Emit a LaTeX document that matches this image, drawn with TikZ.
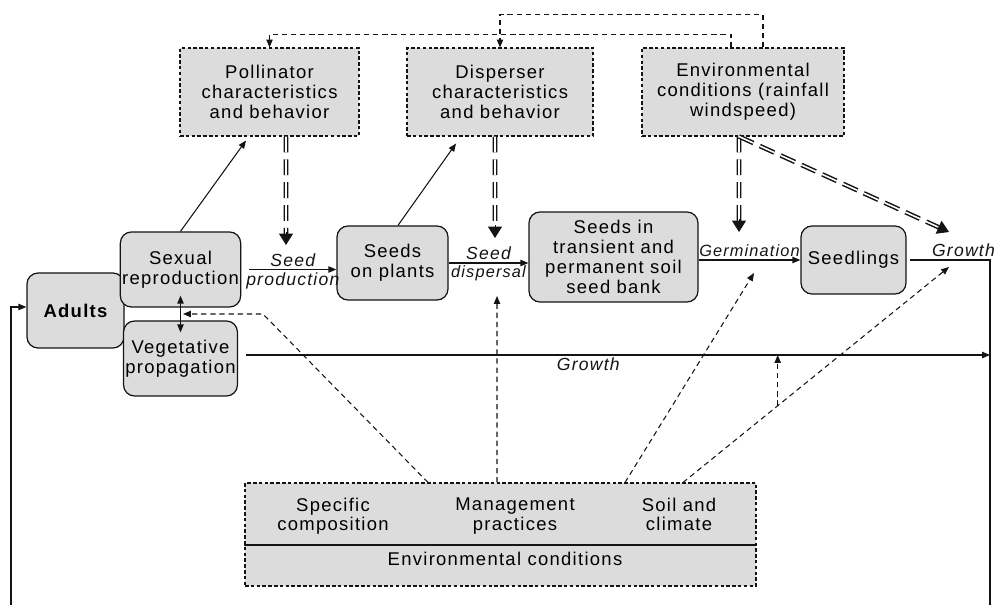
\documentclass[tikz,border=0pt]{standalone}
\usepackage{fontspec}
\setmainfont{Liberation Sans}[LetterSpace=7]
\usetikzlibrary{positioning,arrows.meta,calc}
\definecolor{boxfill}{HTML}{DCDCDC}
\definecolor{ink}{HTML}{141414}

\begin{document}
\begin{tikzpicture}[font=\fontsize{10.5}{11.3}\selectfont,
    fbox/.style={draw=ink, fill=boxfill, dash pattern=on 2pt off 1.3pt, line width=0.6pt, minimum height=1.76cm, align=center, inner sep=1pt},
    rbox/.style={draw=ink, fill=boxfill, rounded corners=0.22cm, line width=0.7pt, align=center, inner sep=1pt},
    lab/.style={font=\fontsize{10}{10}\selectfont\itshape, inner sep=1.5pt},
    slab/.style={font=\fontsize{9.3}{10}\selectfont\itshape, inner sep=1.5pt},
    arr/.style={-{Triangle[length=4.5pt,width=3.6pt]}, line width=0.6pt, ink},
    fb/.style={-{Triangle[length=4.5pt,width=3.6pt]}, line width=0.6pt, dash pattern=on 3pt off 2.2pt, ink},
    dbl/.style={double=white, double distance=0.9pt, line width=0.85pt, dash pattern=on 9pt off 4pt, shorten >=5pt, ink},
    hd/.style={-{Triangle[length=6.5pt,width=8pt]}, line width=0.5pt, ink}]

  \useasboundingbox (0,0) rectangle (19.9,12.1);

  % top row: agents and conditions
  \node[fbox, minimum width=3.58cm] (pol) at (5.39,10.26) {Pollinator\\characteristics\\and behavior};
  \node[fbox, minimum width=3.72cm] (dis) at (10.0,10.26) {Disperser\\characteristics\\and behavior};
  \node[fbox, minimum width=4.04cm] (env) at (14.86,10.26) {Environmental\\conditions (rainfall\\windspeed)};

  % life cycle row
  \node[rbox, minimum width=1.94cm, minimum height=1.5cm, font=\fontsize{10.5}{11.3}\selectfont\bfseries] (adults) at (1.51,5.89) {Adults};
  \node[rbox, minimum width=2.26cm, minimum height=1.5cm] (sex) at (3.61,6.71) {Sexual\\reproduction};
  \node[rbox, minimum width=2.26cm, minimum height=1.5cm] (veg) at (3.61,4.93) {Vegetative\\propagation};
  \node[rbox, minimum width=2.22cm, minimum height=1.48cm] (seeds) at (7.85,6.84) {Seeds\\on plants};
  \node[rbox, minimum width=3.38cm, minimum height=1.8cm] (bank) at (12.27,6.96) {Seeds in\\transient and\\permanent soil\\seed bank};
  \node[rbox, minimum width=2.1cm, minimum height=1.36cm] (seedl) at (17.07,6.9) {Seedlings};

  % bottom box
  \node[fbox, minimum width=10.22cm, minimum height=2.06cm] (envc) at (10.01,1.41) {};
  \draw[ink, line width=0.6pt] ([yshift=-0.21cm]envc.west) -- ([yshift=-0.21cm]envc.east);
  \node[align=center, anchor=north] (spec) at (6.66,2.27) {Specific\\composition};
  \node[align=center, anchor=north] (mgmt) at (10.3,2.27) {Management\\practices};
  \node[align=center, anchor=north] (soil) at (13.58,2.27) {Soil and\\climate};
  \node (envt) at (10.1,0.92) {Environmental conditions};

  % free ends
  \coordinate (rtop) at (19.8,6.9);
  \coordinate (rbot) at (19.8,0);
  \coordinate (lb) at (0.22,0);
  \coordinate (tseed) at (5.72,7.2);
  \coordinate (tdisp) at (9.9,7.34);
  \coordinate (tgerm) at (14.78,7.46);
  \coordinate (tgrow) at (18.98,7.46);
  \coordinate (es) at ([xshift=-0.08cm]env.south);
  \coordinate (gv) at ([xshift=0.16cm,yshift=0.07cm]veg.east);
  \coordinate (ge) at (gv -| rtop);

  % main flow
  \draw[arr] ([xshift=0.16cm]sex.east) -- node[lab, above]{Seed} node[lab, below]{production} (sex.east -| seeds.west);
  \draw[arr] (seeds.east) -- node[lab, above]{Seed} node[slab, below]{dispersal} (seeds.east -| bank.west);
  \draw[arr] (seedl.west -| bank.east) -- node[slab, above]{Germination} (seedl.west);
  \draw[ink, line width=0.6pt] ([xshift=0.06cm]seedl.east) -- node[lab, above, pos=0.67]{Growth} (seedl.east -| rtop) -- (rbot);
  \draw[arr] (gv) -- node[lab, below, pos=0.46]{Growth} (ge);
  \draw[arr] (lb) |- ([yshift=0.07cm]adults.west);
  \draw[{Triangle[length=4.5pt,width=3.6pt]}-{Triangle[length=4.5pt,width=3.6pt]}, line width=0.6pt, ink] ([yshift=0.24cm]sex.south) -- ([yshift=-0.24cm]veg.north);

  % to pollinators and dispersers
  \draw[arr] (sex.north) -- ([xshift=-0.47cm,yshift=-0.08cm]pol.south);
  \draw[arr] ([xshift=0.11cm]seeds.north) -- ([xshift=-0.88cm,yshift=-0.14cm]dis.south);

  % heavy effects
  \draw[dbl] ([xshift=0.33cm]pol.south) -- (tseed);
  \draw[hd] ($(tseed)+(0,0.25)$) -- (tseed);
  \draw[dbl] ([xshift=-0.1cm]dis.south) -- (tdisp);
  \draw[hd] ($(tdisp)+(0,0.25)$) -- (tdisp);
  \draw[dbl] (es) -- (tgerm);
  \draw[hd] ($(tgerm)+(0,0.25)$) -- (tgerm);
  \draw[dbl] (es) -- (tgrow);
  \draw[hd] ($(tgrow)!0.25cm!(es)$) -- (tgrow);

  % feedback on top
  \draw[fb] ([xshift=0.4cm]env.north) -- ++(0,0.66) -| (dis.north);
  \draw[fb] ([xshift=-0.24cm]env.north) -- ++(0,0.26) -| (pol.north);

  % effects of environmental conditions
  \draw[fb] ([xshift=-1.45cm]envc.north) -- (5.26,5.82) -- (3.66,5.82);
  \draw[fb] ([xshift=-0.07cm]envc.north) -- (9.94,6.18);
  \draw[fb] ([xshift=2.49cm]envc.north) -- (15.08,6.64);
  \draw[fb] ([xshift=3.65cm]envc.north) -- coordinate[pos=0.356] (br) (18.98,6.76);
  \draw[fb] (br) -- (br |- gv);
\end{tikzpicture}
\end{document}
